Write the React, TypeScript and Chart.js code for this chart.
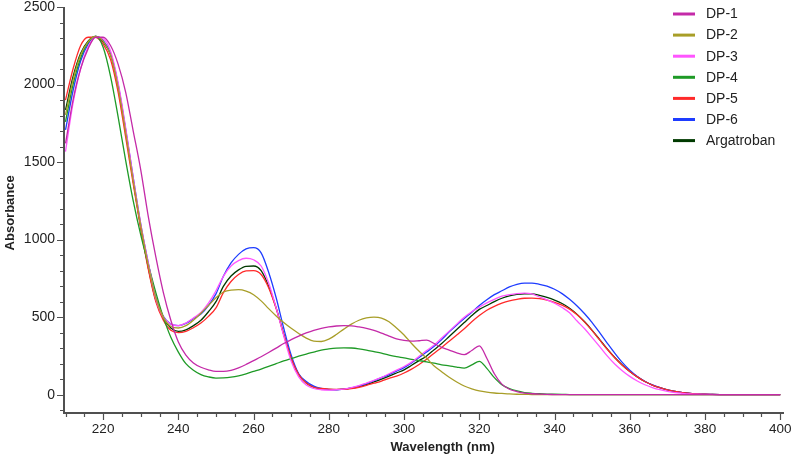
import React, { useEffect, useRef } from "react";
import { Chart, registerables } from "chart.js";

Chart.register(...registerables);

// Wavelength (nm)
const wavelengths = [
  210, 212, 214, 216, 218, 220, 222, 224, 226, 228,
  230, 232, 234, 236, 238, 240, 242, 244, 246, 248,
  250, 252, 254, 256, 258, 260, 262, 264, 266, 268,
  270, 272, 274, 276, 278, 280, 282, 284, 286, 288,
  290, 292, 294, 296, 298, 300, 302, 304, 306, 308,
  310, 312, 314, 316, 318, 320, 322, 324, 326, 328,
  330, 332, 334, 336, 338, 340, 342, 344, 346, 348,
  350, 352, 354, 356, 358, 360, 362, 364, 366, 368,
  370, 372, 374, 376, 378, 380, 382, 384, 386, 388,
  390, 392, 394, 396, 398, 400,
];

const dp1 = [
  1620, 1900, 2100, 2230, 2305, 2305, 2250, 2130, 1950, 1700,
  1450, 1150, 890, 660, 480, 340, 255, 205, 177, 160,
  150, 150, 157, 173, 195, 220, 245, 272, 300, 330,
  355, 378, 398, 415, 428, 437, 443, 446, 444, 437,
  428, 415, 397, 378, 360, 350, 345, 348, 352, 330,
  305, 288, 270, 258, 285, 315, 235, 135, 68, 35,
  20, 10, 6, 4, 2, 1, 0, 0, 0, 0,
  0, 0, 0, 0, 0, 0, 0, 0, 0, 0,
  0, 0, 0, 0, 0, 0, 0, 0, 0, 0,
  0, 0, 0, 0, 0, 0,
];

const dp2 = [
  1804, 2030, 2190, 2275, 2310, 2280, 2190, 1980, 1690, 1380,
  1090, 835, 625, 500, 440, 430, 445, 480, 525, 575,
  625, 662, 675, 677, 668, 645, 605, 555, 508, 465,
  428, 395, 365, 345, 343, 358, 388, 423, 455, 480,
  495, 500, 494, 470, 430, 385, 330, 280, 235, 185,
  148, 112, 82, 56, 38, 24, 16, 11, 8, 5,
  3, 2, 1, 0, 0, 0, 0, 0, 0, 0,
  0, 0, 0, 0, 0, 0, 0, 0, 0, 0,
  0, 0, 0, 0, 0, 0, 0, 0, 0, 0,
  0, 0, 0, 0, 0, 0,
];

const dp3 = [
  1568, 1880, 2100, 2240, 2305, 2295, 2215, 2010, 1720, 1400,
  1100, 850, 620, 500, 455, 445, 462, 495, 530, 590,
  670, 765, 830, 865, 880, 870, 830, 720, 560, 380,
  215, 115, 62, 40, 32, 30, 32, 36, 46, 58,
  75, 92, 112, 135, 158, 182, 210, 248, 285, 320,
  365, 410, 455, 500, 535, 565, 592, 615, 635, 645,
  652, 655, 650, 630, 612, 590, 562, 528, 475, 425,
  368, 310, 250, 198, 155, 118, 88, 64, 46, 32,
  22, 14, 9, 5, 3, 2, 1, 0, 0, 0,
  0, 0, 0, 0, 0, 0,
];

const dp4 = [
  1760, 2000, 2170, 2270, 2310, 2240, 2050, 1790, 1510, 1250,
  1030, 840, 660, 500, 370, 275, 200, 158, 130, 115,
  107, 108, 113, 122, 135, 150, 165, 182, 200, 218,
  233, 248, 262, 275, 288, 295, 300, 302, 301, 296,
  288, 278, 268, 255, 245, 237, 228, 220, 212, 203,
  193, 186, 178, 172, 192, 215, 170, 110, 64, 40,
  24, 14, 9, 6, 4, 3, 2, 1, 0, 0,
  0, 0, 0, 0, 0, 0, 0, 0, 0, 0,
  0, 0, 0, 0, 0, 0, 0, 0, 0, 0,
  0, 0, 0, 0, 0, 0,
];

const dp5 = [
  1900, 2100, 2250, 2305, 2305, 2260, 2160, 1950, 1660, 1360,
  1070, 810, 600, 480, 415, 400, 408, 432, 462, 505,
  560, 660, 730, 775, 798, 800, 775, 690, 555, 390,
  235, 130, 75, 48, 40, 36, 34, 35, 40, 48,
  60, 74, 88, 105, 120, 140, 165, 195, 228, 268,
  305, 345, 385, 425, 470, 510, 545, 570, 590, 605,
  615, 622, 623, 620, 610, 596, 578, 552, 515, 468,
  413, 353, 293, 238, 190, 150, 115, 85, 62, 45,
  31, 21, 14, 9, 5, 3, 2, 1, 0, 0,
  0, 0, 0, 0, 0, 0,
];

const dp6 = [
  1707, 1960, 2150, 2260, 2310, 2285, 2200, 2000, 1710, 1400,
  1100, 850, 630, 505, 455, 445, 460, 490, 520, 575,
  650, 765, 850, 905, 940, 948, 915, 790, 625, 430,
  255, 135, 85, 55, 40, 33, 32, 36, 44, 56,
  72, 90, 110, 130, 152, 175, 205, 240, 275, 312,
  355, 405, 450, 492, 532, 575, 612, 645, 670, 695,
  712, 720, 720, 712, 700, 680, 652, 615, 572, 522,
  465, 400, 333, 268, 208, 158, 118, 87, 63, 45,
  31, 21, 14, 9, 5, 3, 2, 1, 0, 0,
  0, 0, 0, 0, 0, 0,
];

const argatroban = [
  1836, 2050, 2200, 2280, 2310, 2275, 2190, 1990, 1700, 1380,
  1080, 820, 610, 495, 430, 408, 418, 445, 480, 535,
  600, 700, 765, 805, 828, 830, 800, 700, 560, 390,
  235, 130, 75, 48, 38, 34, 33, 36, 42, 52,
  65, 82, 100, 120, 140, 160, 190, 220, 250, 290,
  330, 375, 420, 465, 510, 550, 575, 600, 622, 638,
  647, 651, 650, 640, 627, 610, 588, 558, 518, 470,
  415, 355, 295, 240, 192, 150, 115, 85, 62, 45,
  31, 21, 14, 9, 5, 3, 2, 1, 0, 0,
  0, 0, 0, 0, 0, 0,
];

const seriesNames = ["DP-1", "DP-2", "DP-3", "DP-4", "DP-5", "DP-6", "Argatroban"];
const seriesValues = [dp1, dp2, dp3, dp4, dp5, dp6, argatroban];
const seriesColors = ["#c42aa8", "#a89e28", "#ff55ff", "#1e9a26", "#ff2a2a", "#1e3cff", "#003a00"];

const xTickLabels = [220, 240, 260, 280, 300, 320, 340, 360, 380, 400];
const yTickLabels = [0, 500, 1000, 1500, 2000, 2500];

const X_MIN = 209.6;
const X_MAX = 401;
const Y_MIN = -118;
const Y_MAX = 2500;

const FONT = "'Liberation Sans', Arial, sans-serif";

const axesPlugin = {
  id: "customAxes",
  afterDraw(chart: any) {
    const { ctx, chartArea } = chart;
    const xs = chart.scales.x;
    const ys = chart.scales.y;
    const { left, right, top, bottom } = chartArea;
    ctx.save();
    ctx.strokeStyle = "#505050";
    ctx.fillStyle = "#222";
    // axis lines
    ctx.lineWidth = 2;
    ctx.beginPath();
    ctx.moveTo(left, top);
    ctx.lineTo(left, bottom + 1);
    ctx.moveTo(left - 1, bottom);
    ctx.lineTo(right, bottom);
    ctx.stroke();

    // y ticks (minor every 100, major every 500)
    ctx.lineWidth = 1.2;
    ctx.beginPath();
    for (let v = -100; v <= Y_MAX; v += 100) {
      const py = Math.round(ys.getPixelForValue(v)) + 0.5;
      const len = v % 500 === 0 ? 6 : 3;
      ctx.moveTo(left - len - 1, py);
      ctx.lineTo(left, py);
    }
    // x ticks (minor every 5, major every 20)
    for (let v = 210; v <= 400; v += 5) {
      const px = Math.round(xs.getPixelForValue(v)) + 0.5;
      const len = v % 20 === 0 ? 6 : 3;
      ctx.moveTo(px, bottom);
      ctx.lineTo(px, bottom + len + 1);
    }
    ctx.stroke();

    // tick labels
    ctx.font = `14px ${FONT}`;
    ctx.textAlign = "right";
    ctx.textBaseline = "middle";
    yTickLabels.forEach((v) => {
      ctx.fillText(String(v), left - 9, ys.getPixelForValue(v));
    });
    ctx.font = `13.5px ${FONT}`;
    ctx.textAlign = "center";
    ctx.textBaseline = "top";
    xTickLabels.forEach((v) => {
      ctx.fillText(String(v), xs.getPixelForValue(v), bottom + 10);
    });

    // axis titles
    ctx.font = `bold 13px ${FONT}`;
    ctx.textAlign = "center";
    ctx.textBaseline = "middle";
    ctx.fillText("Wavelength (nm)", (xs.getPixelForValue(220) + xs.getPixelForValue(400)) / 2 + 1, 447);
    ctx.save();
    ctx.translate(10, ys.getPixelForValue(1250) + 12);
    ctx.rotate(-Math.PI / 2);
    ctx.fillText("Absorbance", 0, 0);
    ctx.restore();

    // legend
    ctx.font = `14px ${FONT}`;
    ctx.textAlign = "left";
    ctx.textBaseline = "middle";
    chart.data.datasets.forEach((ds: any, i: number) => {
      const y = 14 + i * 21.1;
      ctx.strokeStyle = ds.borderColor;
      ctx.lineWidth = 3;
      ctx.beginPath();
      ctx.moveTo(673, y);
      ctx.lineTo(695, y);
      ctx.stroke();
      ctx.fillStyle = "#222";
      ctx.fillText(ds.label, 706, y + 0.5);
    });
    ctx.restore();
  },
};

export default function App() {
  const canvasRef = useRef<HTMLCanvasElement | null>(null);

  useEffect(() => {
    document.body.style.margin = "0";
    const canvas = canvasRef.current;
    if (!canvas) return;
    const chart = new Chart(canvas, {
      type: "line",
      data: {
        datasets: seriesNames.map((name, i) => ({
          label: name,
          data: wavelengths.map((w, j) => ({ x: w, y: seriesValues[i][j] })),
          borderColor: seriesColors[i],
          backgroundColor: seriesColors[i],
          borderWidth: 1.3,
          pointRadius: 0,
          cubicInterpolationMode: "monotone" as const,
          fill: false,
        })),
      },
      options: {
        animation: false,
        responsive: false,
        devicePixelRatio: 1,
        layout: { padding: { left: 64, right: 7, top: 7, bottom: 47 } },
        scales: {
          x: { type: "linear", min: X_MIN, max: X_MAX, display: false },
          y: { type: "linear", min: Y_MIN, max: Y_MAX, display: false },
        },
        plugins: {
          legend: { display: false },
          tooltip: { enabled: false },
        },
      },
      plugins: [axesPlugin],
    });
    return () => chart.destroy();
  }, []);

  return (
    <div style={{ width: 791, height: 460, background: "#fff" }}>
      <canvas ref={canvasRef} width={791} height={460} style={{ display: "block", width: 791, height: 460 }} />
    </div>
  );
}
